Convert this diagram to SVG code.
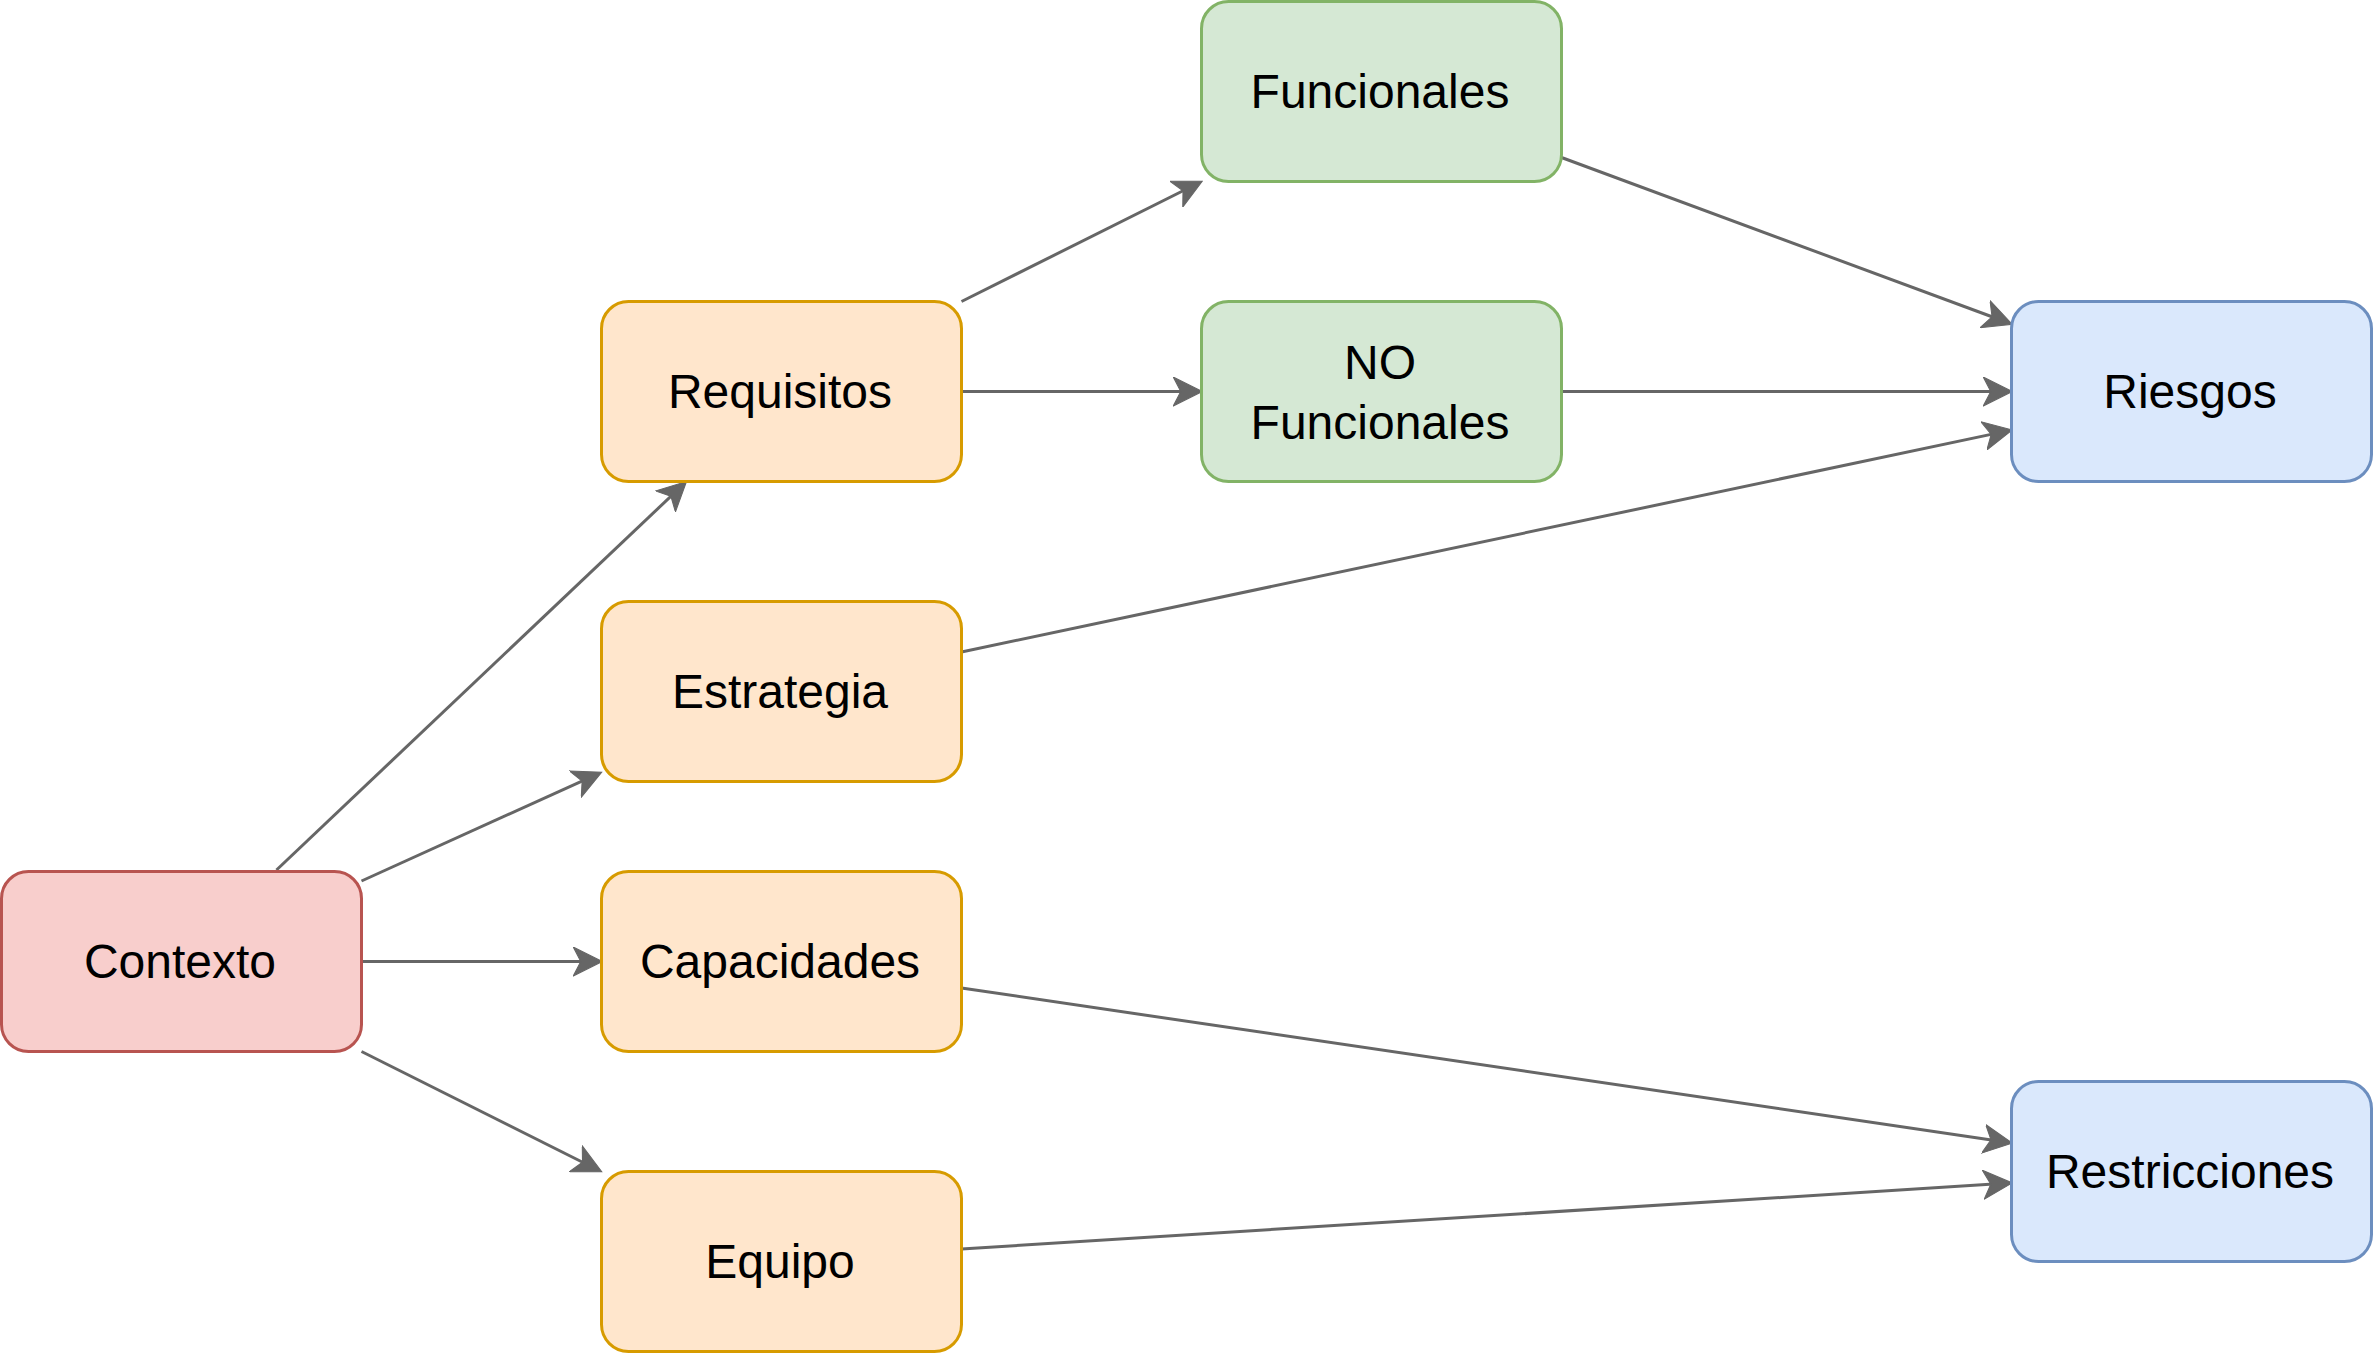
<svg xmlns="http://www.w3.org/2000/svg" width="2373" height="1353" viewBox="0 0 2373 1353">
<style>
.box{stroke-width:3}
.red{fill:#f8cecc;stroke:#b85450}
.orange{fill:#ffe6cc;stroke:#d79b00}
.green{fill:#d5e8d4;stroke:#82b366}
.blue{fill:#dae8fc;stroke:#6c8ebf}
text{font-family:"Liberation Sans",Arial,Helvetica,sans-serif;font-size:48px;fill:#000;text-anchor:middle}
.edge{fill:none;stroke:#666666;stroke-width:3}
</style>
<defs>
<marker id="arrow" markerUnits="userSpaceOnUse" markerWidth="30" markerHeight="30" viewBox="0 0 28 28" refX="17" refY="14" orient="auto">
<path d="M0,0.5 L27,14 L0,27.5 L7,14 Z" fill="#666666" stroke="#666666" stroke-width="1"/>
</marker>
</defs>
<rect width="2373" height="1353" fill="#ffffff"/>
<g id="edges">
<line class="edge" x1="276.5" y1="870" x2="678.7" y2="488.9" marker-end="url(#arrow)"/>
<line class="edge" x1="361.5" y1="881" x2="591.9" y2="776.6" marker-end="url(#arrow)"/>
<line class="edge" x1="361.5" y1="961.5" x2="591.5" y2="961.5" marker-end="url(#arrow)"/>
<line class="edge" x1="361.5" y1="1051.5" x2="592.1" y2="1167" marker-end="url(#arrow)"/>
<line class="edge" x1="961.5" y1="301.5" x2="1192.6" y2="186" marker-end="url(#arrow)"/>
<line class="edge" x1="961.5" y1="391.5" x2="1191.5" y2="391.5" marker-end="url(#arrow)"/>
<line class="edge" x1="1561.5" y1="157.5" x2="2002.1" y2="320.5" marker-end="url(#arrow)"/>
<line class="edge" x1="1561.5" y1="391.5" x2="2001.5" y2="391.5" marker-end="url(#arrow)"/>
<line class="edge" x1="961.5" y1="652" x2="2001.7" y2="432.1" marker-end="url(#arrow)"/>
<line class="edge" x1="961.5" y1="988" x2="2001.6" y2="1141.5" marker-end="url(#arrow)"/>
<line class="edge" x1="961.5" y1="1249" x2="2001.5" y2="1183.6" marker-end="url(#arrow)"/>
</g>
<g id="contexto"><rect class="box red" x="1.5" y="871.5" width="360" height="180" rx="27"/><text x="180" y="978">Contexto</text></g>
<g id="requisitos"><rect class="box orange" x="601.5" y="301.5" width="360" height="180" rx="27"/><text x="780" y="408">Requisitos</text></g>
<g id="estrategia"><rect class="box orange" x="601.5" y="601.5" width="360" height="180" rx="27"/><text x="780" y="708">Estrategia</text></g>
<g id="capacidades"><rect class="box orange" x="601.5" y="871.5" width="360" height="180" rx="27"/><text x="780" y="978">Capacidades</text></g>
<g id="equipo"><rect class="box orange" x="601.5" y="1171.5" width="360" height="180" rx="27"/><text x="780" y="1278">Equipo</text></g>
<g id="funcionales"><rect class="box green" x="1201.5" y="1.5" width="360" height="180" rx="27"/><text x="1380" y="108">Funcionales</text></g>
<g id="no-funcionales"><rect class="box green" x="1201.5" y="301.5" width="360" height="180" rx="27"/><text x="1380" y="379">NO</text><text x="1380" y="438.5">Funcionales</text></g>
<g id="riesgos"><rect class="box blue" x="2011.5" y="301.5" width="360" height="180" rx="27"/><text x="2190" y="408">Riesgos</text></g>
<g id="restricciones"><rect class="box blue" x="2011.5" y="1081.5" width="360" height="180" rx="27"/><text x="2190" y="1188">Restricciones</text></g>
</svg>
